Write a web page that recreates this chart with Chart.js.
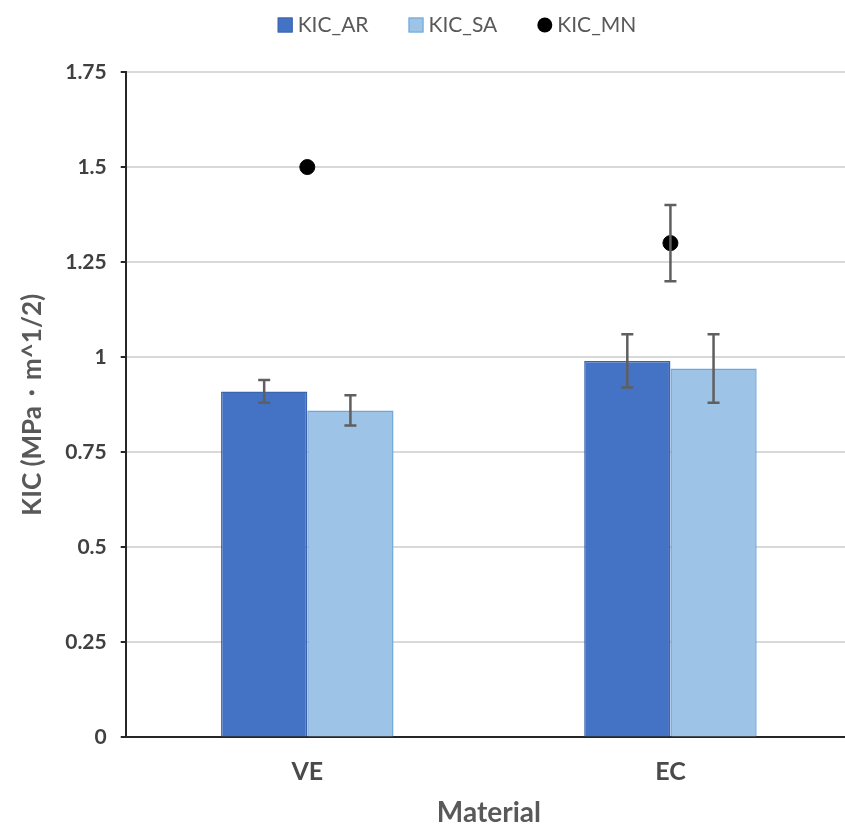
<!DOCTYPE html>
<html>
<head>
<meta charset="utf-8">
<script src="https://cdn.jsdelivr.net/npm/chart.js@4.4.0/dist/chart.umd.min.js"></script>
<style>
html,body{margin:0;padding:0;background:#fff;overflow:hidden;}
#wrap{width:845px;height:827px;overflow:hidden;}
canvas{display:block;}
</style>
</head>
<body>
<div id="wrap"><canvas id="c" width="914" height="827"></canvas></div>
<script>
const categories = ["VE", "EC"];
const kicAR = [0.91, 0.99];
const kicAR_err = [0.03, 0.07];
const kicSA = [0.86, 0.97];
const kicSA_err = [0.04, 0.09];
const kicMN = [1.50, 1.30];
const kicMN_err = [0, 0.10];
const yTickLabels = ["0", "0.25", "0.5", "0.75", "1", "1.25", "1.5", "1.75"];
const seriesNames = ["KIC_AR", "KIC_SA", "KIC_MN"];

const errorData = [kicAR_err, kicSA_err, kicMN_err];

const errorBarPlugin = {
  id: 'errorBars',
  afterDatasetsDraw(chart) {
    const ctx = chart.ctx;
    const y = chart.scales.y;
    ctx.save();
    ctx.strokeStyle = '#5f5f5f';
    ctx.lineWidth = 2.5;
    chart.data.datasets.forEach((ds, di) => {
      const meta = chart.getDatasetMeta(di);
      const errs = errorData[di];
      meta.data.forEach((el, i) => {
        const e = errs[i];
        if (!e) return;
        const v = ds.data[i];
        const x = el.x;
        const yt = y.getPixelForValue(v + e);
        const yb = y.getPixelForValue(v - e);
        const cap = 6;
        ctx.beginPath();
        ctx.moveTo(x, yt); ctx.lineTo(x, yb);
        ctx.moveTo(x - cap, yt); ctx.lineTo(x + cap, yt);
        ctx.moveTo(x - cap, yb); ctx.lineTo(x + cap, yb);
        ctx.stroke();
      });
    });
    ctx.restore();
  }
};

const customLegend = {
  id: 'customLegend',
  afterDraw(chart) {
    const ctx = chart.ctx;
    const font = '21px Lato';
    const box = 15, gapBoxText = 5, gapItems = 40;
    const cy = 25;
    ctx.save();
    ctx.font = font;
    const items = chart.data.datasets.map((ds, i) => ({
      text: ds.label,
      w: ctx.measureText(ds.label).width,
      fill: i === 2 ? '#000' : ds.backgroundColor,
      stroke: i === 2 ? '#000' : ds.borderColor,
      circle: i === 2
    }));
    let total = 0;
    items.forEach((it, i) => { total += box + gapBoxText + it.w + (i < items.length - 1 ? gapItems : 0); });
    let x = chart.width / 2 - total / 2;
    ctx.textBaseline = 'middle';
    ctx.textAlign = 'left';
    items.forEach(it => {
      ctx.fillStyle = it.fill;
      ctx.strokeStyle = it.stroke;
      ctx.lineWidth = 1;
      if (it.circle) {
        ctx.beginPath();
        ctx.arc(x + box / 2, cy, box / 2, 0, Math.PI * 2);
        ctx.fill();
      } else {
        ctx.fillRect(x, cy - box / 2, box, box);
        ctx.strokeRect(x + 0.5, cy - box / 2 + 0.5, box - 1, box - 1);
      }
      x += box + gapBoxText;
      ctx.fillStyle = '#595959';
      ctx.fillText(it.text, x, cy);
      x += it.w + gapItems;
    });
    ctx.restore();
  }
};

new Chart(document.getElementById('c'), {
  type: 'bar',
  data: {
    labels: categories,
    datasets: [
      {
        label: seriesNames[0],
        data: kicAR,
        backgroundColor: '#4472C4',
        borderColor: '#3a64b0',
        borderWidth: 1.5,
        barPercentage: 1,
        categoryPercentage: 0.475,
        order: 2
      },
      {
        label: seriesNames[1],
        data: kicSA,
        backgroundColor: '#9DC3E6',
        borderColor: '#6fa6da',
        borderWidth: 1.5,
        barPercentage: 1,
        categoryPercentage: 0.475,
        order: 2
      },
      {
        type: 'line',
        label: seriesNames[2],
        data: kicMN,
        showLine: false,
        pointRadius: 7.5,
        pointHoverRadius: 7.5,
        pointBackgroundColor: '#000',
        pointBorderColor: '#000',
        backgroundColor: '#000',
        borderColor: '#000',
        order: 1
      }
    ]
  },
  options: {
    responsive: false,
    animation: false,
    layout: { padding: { left: 17, right: 62, top: 72, bottom: 0 } },
    plugins: {
      tooltip: { enabled: false },
      legend: { display: false }
    },
    scales: {
      x: {
        grid: { display: false, drawTicks: false },
        border: { display: true, color: '#262626', width: 2 },
        ticks: {
          color: '#4a4a4a',
          font: { family: 'Lato', size: 25, weight: 'bold' },
          padding: 20
        },
        title: {
          display: true,
          text: 'Material',
          color: '#595959',
          font: { family: 'Lato', size: 28, weight: 'bold' },
          padding: { top: -11, bottom: -3 }
        }
      },
      y: {
        min: 0,
        max: 1.75,
        ticks: {
          stepSize: 0.25,
          color: '#404040',
          font: { family: 'Lato', size: 21, weight: 'bold' },
          padding: 14,
          callback: (v, i) => yTickLabels[i]
        },
        grid: {
          color: '#d9d9d9',
          lineWidth: 2,
          tickColor: '#262626',
          tickLength: 5,
          drawTicks: true
        },
        border: { display: true, color: '#262626', width: 2 },
        title: {
          display: true,
          text: 'KIC (MPa・m^1/2)',
          color: '#595959',
          font: { family: 'Lato', size: 26, weight: 'bold' },
          padding: { top: 0, bottom: 3 }
        }
      }
    }
  },
  plugins: [errorBarPlugin, customLegend]
});
</script>
</body>
</html>
